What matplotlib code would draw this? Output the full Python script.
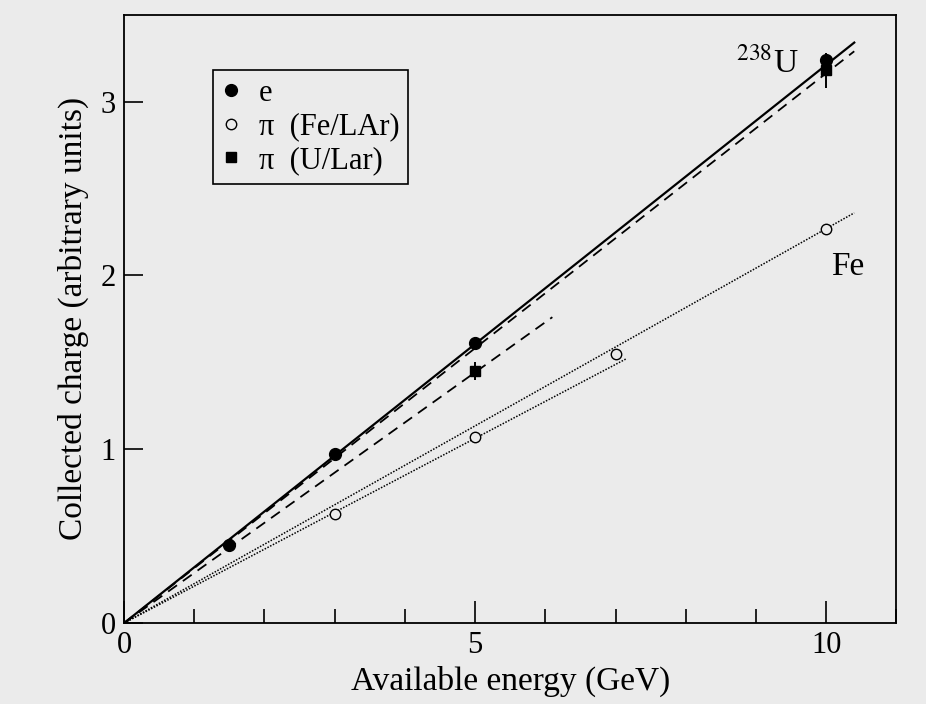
import numpy as np
import matplotlib.pyplot as plt
from matplotlib.ticker import MultipleLocator

# data points
e_energy = [1.5, 3.0, 5.0, 10.0]
e_charge = [0.45, 0.97, 1.61, 3.24]

pi_fe_energy = [3.0, 5.0, 7.0, 10.0]
pi_fe_charge = [0.63, 1.07, 1.55, 2.27]

pi_u_energy = [5.0, 10.0]
pi_u_charge = [1.45, 3.18]
pi_u_err = [0.05, 0.1]

# fitted lines from the origin: end point (energy, charge)
line_end_x = [10.4, 10.4, 6.1, 10.4, 7.15]
line_end_y = [3.34, 3.29, 1.76, 2.36, 1.52]
line_styles = ['-', '--', '--', ':', ':']

plt.rcParams['font.family'] = ['Liberation Serif', 'DejaVu Serif']
plt.rcParams['mathtext.fontset'] = 'stix'

bg = '#ebebeb'
fig = plt.figure(figsize=(9.26, 7.04), dpi=100, facecolor=bg)
ax = fig.add_axes([0.134, 0.115, 0.834, 0.864], facecolor=bg)

lw_map = {'-': 1.6, '--': 1.3, ':': 1.1}
for xe, ye, ls in zip(line_end_x, line_end_y, line_styles):
    ax.plot([0, xe], [0, ye], color='black', linestyle=ls, linewidth=lw_map[ls],
            dashes=(6, 4) if ls == '--' else (1, 1) if ls == ':' else (None, None))

# error bars drawn separately so the legend shows only the squares
ax.errorbar(pi_u_energy, pi_u_charge, yerr=pi_u_err, fmt='none', ecolor='black',
            elinewidth=1.4, capsize=0, zorder=4)

ax.plot(e_energy, e_charge, 'o', color='black', markersize=8.5, label='e', zorder=5)
ax.plot(pi_fe_energy, pi_fe_charge, 'o', markerfacecolor=bg, markeredgecolor='black',
        markeredgewidth=1.0, markersize=7.5, label='π  (Fe/LAr)', zorder=5)
ax.plot(pi_u_energy, pi_u_charge, 's', color='black', markersize=7.5,
        label='π  (U/Lar)', zorder=5)

ax.set_xlim(0, 11)
ax.set_ylim(0, 3.5)

ax.xaxis.set_major_locator(MultipleLocator(5))
ax.xaxis.set_minor_locator(MultipleLocator(1))
ax.yaxis.set_major_locator(MultipleLocator(1))
ax.tick_params(axis='x', which='major', direction='in', length=16, width=1.2,
               labelsize=22, pad=6, top=False)
ax.tick_params(axis='x', which='minor', direction='in', length=10, width=1.2, top=False)
ax.tick_params(axis='y', which='major', direction='in', length=14, width=1.2,
               labelsize=22, pad=6, right=False)
for s in ax.spines.values():
    s.set_linewidth(1.3)

ax.set_xlabel('Available energy (GeV)', fontsize=24, labelpad=4)
ax.set_ylabel('Collected charge (arbitrary units)', fontsize=24, labelpad=8)

ax.text(9.6, 3.22, r'$^{\mathrm{238}}$U', fontsize=24, ha='right', va='center')
ax.text(10.3, 2.05, 'Fe', fontsize=24, ha='center', va='center')

leg = ax.legend(loc='upper left', bbox_to_anchor=(0.095, 0.935), fontsize=22,
                frameon=True, fancybox=False, edgecolor='black', facecolor=bg,
                handlelength=0.6, handletextpad=0.6, borderpad=0.3,
                labelspacing=0.15, markerscale=1.0)
leg.get_frame().set_linewidth(1.2)
leg.get_frame().set_alpha(1)

fig.savefig('out.png', dpi=100, facecolor=bg)
